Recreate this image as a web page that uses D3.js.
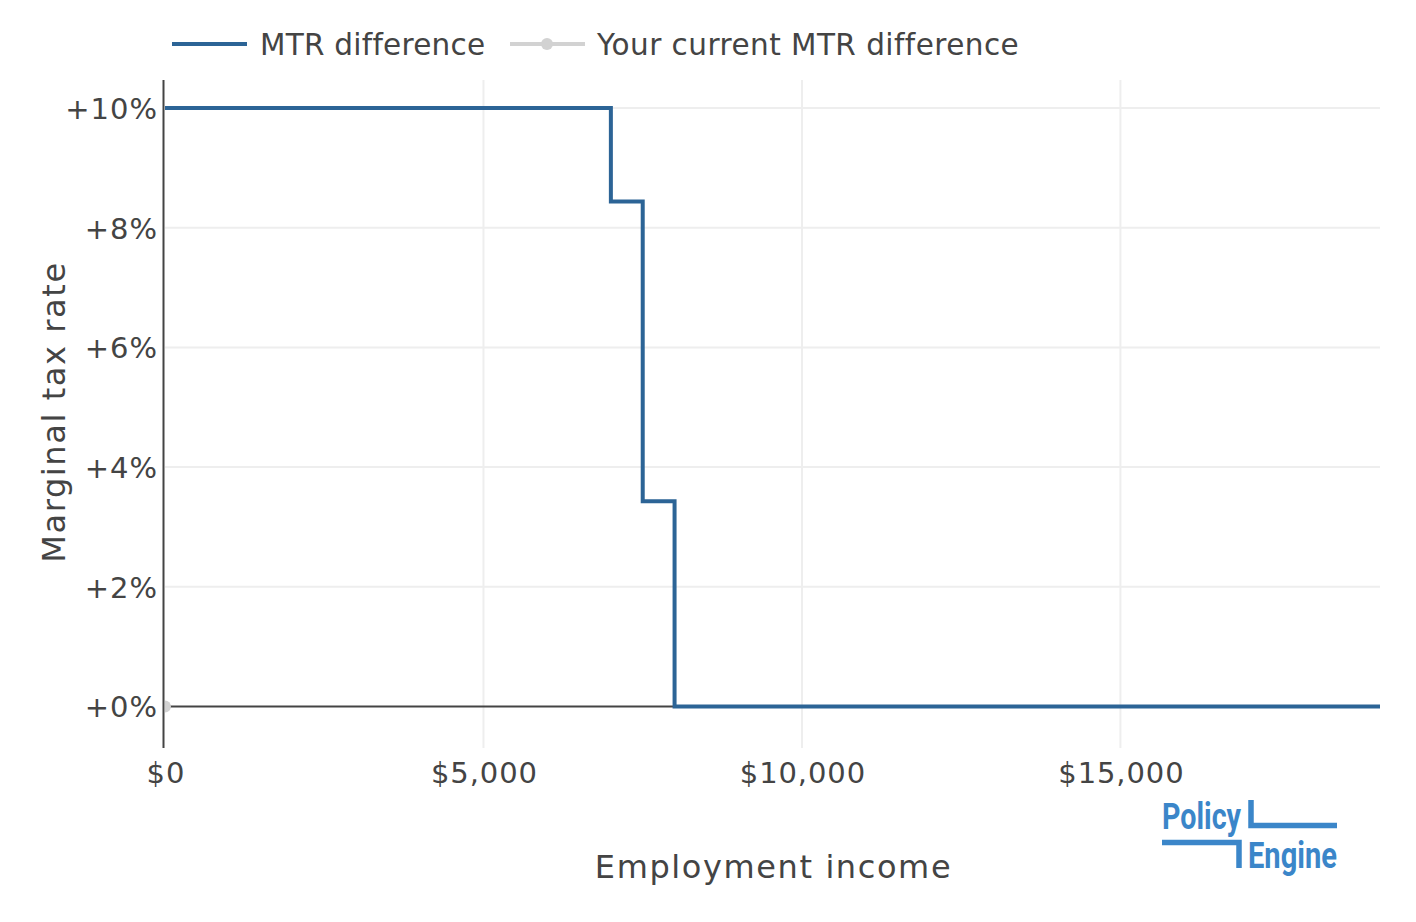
<!DOCTYPE html>
<html>
<head>
<meta charset="utf-8">
<script src="https://cdn.jsdelivr.net/npm/d3@7/dist/d3.min.js"></script>
<style>
  html, body { margin: 0; padding: 0; background: #fff; }
  svg { display: block; font-family: "DejaVu Sans", Verdana, sans-serif; }
</style>
</head>
<body>
<svg id="chart" width="1416" height="922"></svg>
<script>
// ---- data ----
const incomeBreaks = [0, 7000, 7500, 8000, 19075];      // employment income ($)
const mtrDifference = [0.10, 0.0844, 0.0343, 0, 0];     // MTR difference after each break
const currentIncome = [0];
const currentMtr = [0];
const xTicks = [0, 5000, 10000, 15000];
const yTicks = [0, 0.02, 0.04, 0.06, 0.08, 0.10];
const seriesNames = ["MTR difference", "Your current MTR difference"];
const xTitle = "Employment income";
const yTitle = "Marginal tax rate";

// ---- layout ----
const W = 1416, H = 922;
const plot = { left: 165, right: 1380, top: 80, bottom: 748 };
const mainColor = "#2c6496";
const grey = "#d2d2d2";
const textColor = "#444";

const svg = d3.select("#chart");

const x = d3.scaleLinear().domain([0, 19075]).range([plot.left, plot.right]);
const y = d3.scaleLinear().domain([-0.00693, 0.10468]).range([plot.bottom, plot.top]);

// grid
const grid = svg.append("g");
grid.selectAll("line.vg").data(xTicks.filter(d => d !== 0)).join("line")
  .attr("x1", d => x(d)).attr("x2", d => x(d))
  .attr("y1", plot.top).attr("y2", plot.bottom)
  .attr("stroke", "#eeeeee").attr("stroke-width", 2);
grid.selectAll("line.hg").data(yTicks.filter(d => d !== 0)).join("line")
  .attr("x1", plot.left).attr("x2", plot.right)
  .attr("y1", d => y(d)).attr("y2", d => y(d))
  .attr("stroke", "#eeeeee").attr("stroke-width", 2);

// zero line
svg.append("line")
  .attr("x1", plot.left).attr("x2", plot.right)
  .attr("y1", y(0)).attr("y2", y(0))
  .attr("stroke", textColor).attr("stroke-width", 2);

// clip
svg.append("clipPath").attr("id", "clip").append("rect")
  .attr("x", plot.left).attr("y", plot.top)
  .attr("width", plot.right - plot.left).attr("height", plot.bottom - plot.top);

// step line
const pts = incomeBreaks.map((b, i) => [b, mtrDifference[i]]);
const line = d3.line().x(d => x(d[0])).y(d => y(d[1])).curve(d3.curveStepAfter);
svg.append("path")
  .datum(pts)
  .attr("clip-path", "url(#clip)")
  .attr("fill", "none")
  .attr("stroke", mainColor)
  .attr("stroke-width", 4)
  .attr("d", line);

// current point
svg.append("g").attr("clip-path", "url(#clip)")
  .selectAll("circle").data(currentIncome.map((v, i) => [v, currentMtr[i]])).join("circle")
  .attr("cx", d => x(d[0])).attr("cy", d => y(d[1]))
  .attr("r", 6).attr("fill", grey);

// y axis line
svg.append("line")
  .attr("x1", plot.left - 1.5).attr("x2", plot.left - 1.5)
  .attr("y1", plot.top).attr("y2", plot.bottom)
  .attr("stroke", textColor).attr("stroke-width", 2);

// y tick labels
const yAxis = d3.axisLeft(y).tickValues(yTicks)
  .tickFormat(d => "+" + d3.format(".0f")(d * 100) + "%")
  .tickSize(0).tickPadding(0);
const gy = svg.append("g").attr("transform", `translate(${plot.left - 7},0)`).call(yAxis);
gy.select(".domain").remove();
gy.selectAll("text")
  .attr("fill", textColor)
  .style("font-family", '"DejaVu Sans", Verdana, sans-serif')
  .style("font-size", "29px")
  .style("letter-spacing", "1px")
  .attr("dy", "0.36em");

// x tick labels
const xAxis = d3.axisBottom(x).tickValues(xTicks)
  .tickFormat(d => "$" + d3.format(",")(d))
  .tickSize(0).tickPadding(0);
const gx = svg.append("g").attr("transform", `translate(0,${plot.bottom})`).call(xAxis);
gx.select(".domain").remove();
gx.selectAll("text")
  .attr("fill", textColor)
  .attr("y", 35).attr("dy", 0)
  .attr("dx", "0.45px")
  .style("font-family", '"DejaVu Sans", Verdana, sans-serif')
  .style("font-size", "29px")
  .style("letter-spacing", "0.9px");

// axis titles
svg.append("text")
  .attr("x", (plot.left + plot.right) / 2 + 1).attr("y", 878)
  .attr("text-anchor", "middle")
  .attr("fill", textColor).style("font-size", "32px")
  .style("letter-spacing", "1.6px")
  .text(xTitle);
svg.append("text")
  .attr("transform", `translate(65,${(plot.top + plot.bottom) / 2 - 2}) rotate(-90)`)
  .attr("text-anchor", "middle")
  .attr("fill", textColor).style("font-size", "32px")
  .style("letter-spacing", "1.6px")
  .text(yTitle);

// legend
const lg = svg.append("g");
lg.append("line").attr("x1", 172).attr("x2", 247).attr("y1", 44).attr("y2", 44)
  .attr("stroke", mainColor).attr("stroke-width", 4);
lg.append("text").attr("x", 260).attr("y", 55)
  .attr("fill", textColor).style("font-size", "29.5px")
  .style("letter-spacing", "0.25px").text(seriesNames[0]);
lg.append("line").attr("x1", 510).attr("x2", 585).attr("y1", 44).attr("y2", 44)
  .attr("stroke", grey).attr("stroke-width", 4);
lg.append("circle").attr("cx", 547).attr("cy", 44).attr("r", 6).attr("fill", grey);
lg.append("text").attr("x", 597).attr("y", 55)
  .attr("fill", textColor).style("font-size", "29.5px")
  .style("letter-spacing", "0.45px").text(seriesNames[1]);

// logo
const logoColor = "#3b86c9";
const logo = svg.append("g");
logo.append("text").attr("x", 1162).attr("y", 829)
  .attr("fill", logoColor)
  .style("font-family", "Roboto, sans-serif").style("font-weight", "bold")
  .style("font-size", "36px")
  .attr("textLength", 79).attr("lengthAdjust", "spacingAndGlyphs")
  .text("Policy");
logo.append("text").attr("x", 1248).attr("y", 868)
  .attr("fill", logoColor)
  .style("font-family", "Roboto, sans-serif").style("font-weight", "bold")
  .style("font-size", "36px")
  .attr("textLength", 89).attr("lengthAdjust", "spacingAndGlyphs")
  .text("Engine");
logo.append("path")
  .attr("d", "M1251,800 L1251,825.5 L1337,825.5")
  .attr("fill", "none").attr("stroke", logoColor).attr("stroke-width", 5.5);
logo.append("path")
  .attr("d", "M1162,842.5 L1239,842.5 L1239,868")
  .attr("fill", "none").attr("stroke", logoColor).attr("stroke-width", 5.5);
</script>
</body>
</html>
